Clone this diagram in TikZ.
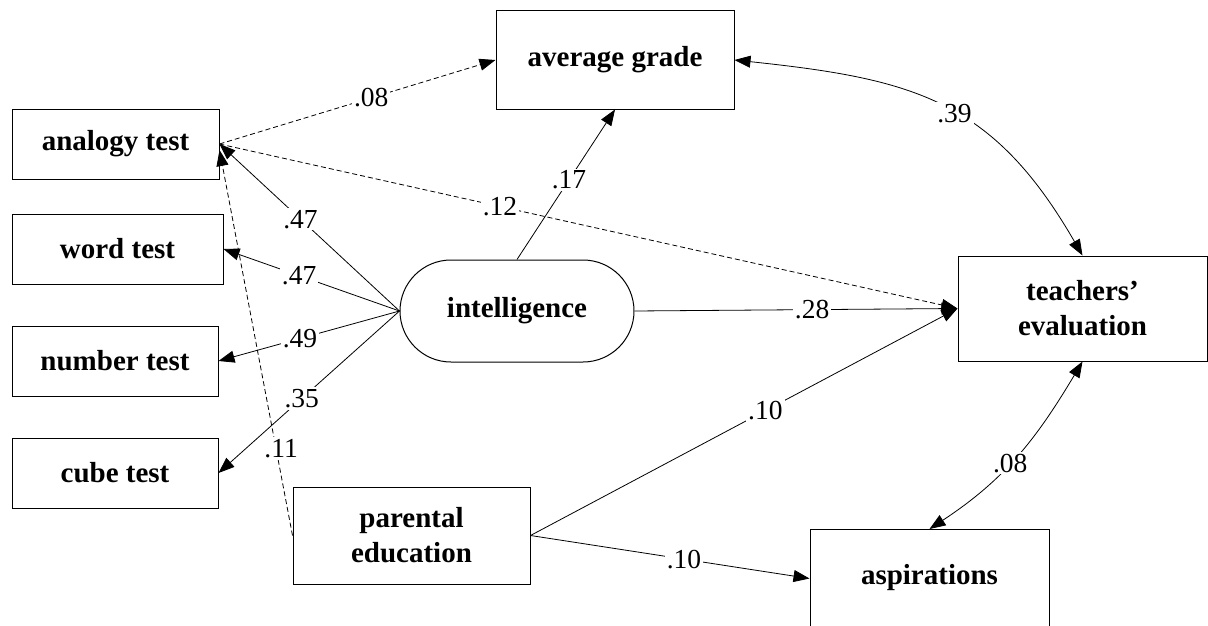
\documentclass[tikz,border=0pt]{standalone}
\usepackage{fontspec}
\setmainfont{Liberation Serif}
\usetikzlibrary{arrows.meta,shapes.misc}
\begin{document}
\begin{tikzpicture}[x=1pt,y=-1pt,
  >={Triangle[length=16pt,width=12pt]},
  box/.style={draw, line width=1pt, font=\fontsize{29}{35}\selectfont\bfseries, align=center, inner sep=0pt},
  lbl/.style={fill=white, font=\fontsize{27.5}{30}\selectfont, inner sep=2pt},
  arr/.style={line width=0.8pt, ->},
  dsh/.style={arr, dash pattern=on 5pt off 3pt},
  cor/.style={line width=0.8pt, <->}
]
\clip (0,0) rectangle (1208,626);
\fill[white] (0,0) rectangle (1208,626);

\node[box, minimum width=238pt, minimum height=98pt] (ag) at (615,60) {average grade};
\node[box, minimum width=207pt, minimum height=70pt] (ana) at (115.5,144) {analogy test};
\node[box, minimum width=211pt, minimum height=70pt] (word) at (117.5,249) {word test};
\node[box, minimum width=206pt, minimum height=70pt] (num) at (115,361) {number test};
\node[box, minimum width=206pt, minimum height=70pt] (cube) at (115,473) {cube test};
\node[box, rounded rectangle, minimum width=234pt, minimum height=102pt] (int) at (517,311) {intelligence};
\node[box, minimum width=249pt, minimum height=105pt] (te) at (1082.5,308.5) {teachers’\\evaluation};
\node[box, minimum width=237pt, minimum height=97pt] (par) at (411.5,535.5) {parental\\education};
\node[box, anchor=north, minimum width=239pt, text height=55pt, text depth=80pt] (asp) at (929.5,529) {aspirations};

\draw[arr] (int.west) -- node[lbl,pos=0.55]{.47} (ana.east);
\draw[arr] (int.west) -- node[lbl,pos=0.57]{.47} (word.east);
\draw[arr] (int.west) -- node[lbl,pos=0.55]{.49} (num.east);
\draw[arr] (int.west) -- node[lbl,pos=0.54]{.35} (cube.east);
\draw[dsh] (par.west) -- node[lbl,pos=0.225,xshift=5pt]{.11} ([yshift=-6pt]ana.east);

\draw[dsh] (ana.east) -- node[lbl,pos=0.55]{.08} (ag.west);
\draw[dsh] (ana.east) -- node[lbl,pos=0.38]{.12} (te.west);
\draw[arr] (int.north) -- node[lbl,pos=0.53]{.17} (ag.south);
\draw[arr] (int.east) -- node[lbl,pos=0.55]{.28} (te.west);
\draw[arr] (par.east) -- node[lbl,pos=0.55]{.10} (te.west);
\draw[arr] (par.east) -- node[lbl,pos=0.55]{.10} ([yshift=6pt]asp.base west);

\draw[cor] (ag.east) .. controls +(179,19) and +(-90,-156) .. node[lbl,pos=0.54]{.39} (te.north);
\draw[cor] (te.south) .. controls +(-46,77) and +(76,-50) .. node[lbl,pos=0.55]{.08} (asp.north);
\end{tikzpicture}
\end{document}
